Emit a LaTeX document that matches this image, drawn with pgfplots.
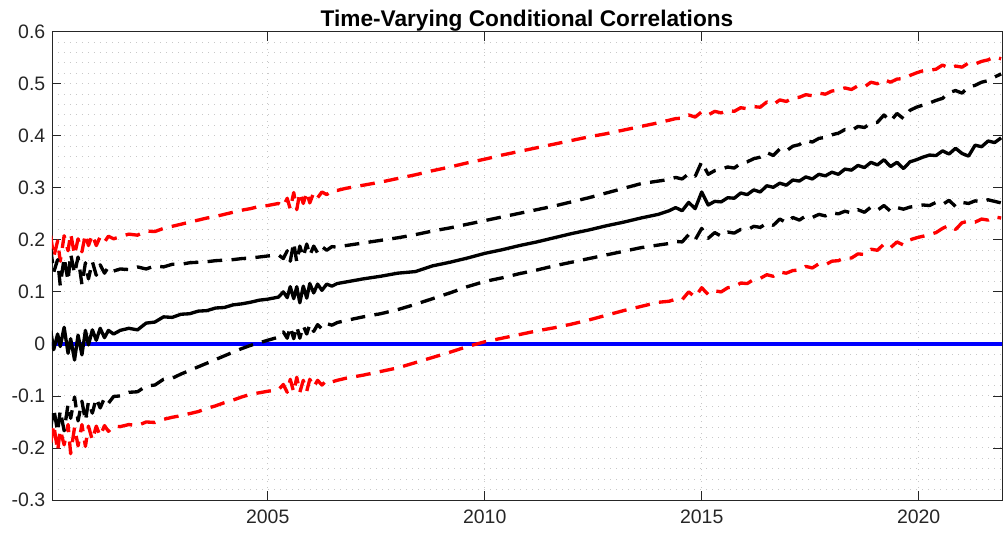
\documentclass[border=0pt]{standalone}
\usepackage{fontspec}
\setmainfont{Liberation Sans}
\usepackage{pgfplots}
\usepackage{pgfplotstable}
\pgfplotsset{compat=1.18}
\definecolor{axgray}{RGB}{38,38,38}
\definecolor{gridgray}{RGB}{200,200,200}
\pgfplotstableread{
t m u1 l1 u2 l2
2000.00 0.025 0.183 -0.161 0.208 -0.190
2000.07 -0.011 0.138 -0.124 0.167 -0.155
2000.16 0.019 0.162 -0.169 0.198 -0.206
2000.22 -0.005 0.112 -0.128 0.159 -0.165
2000.31 0.032 0.166 -0.167 0.208 -0.194
2000.40 -0.018 0.121 -0.116 0.179 -0.155
2000.46 0.010 0.173 -0.143 0.212 -0.211
2000.55 -0.031 0.135 -0.102 0.171 -0.160
2000.63 0.017 0.167 -0.148 0.202 -0.196
2000.72 -0.021 0.114 -0.110 0.177 -0.155
2000.80 0.026 0.156 -0.148 0.211 -0.197
2000.87 -0.002 0.125 -0.111 0.189 -0.158
2000.96 0.027 0.158 -0.133 0.210 -0.185
2001.05 0.007 0.132 -0.104 0.189 -0.158
2001.14 0.030 0.152 -0.123 0.206 -0.177
2001.24 0.012 0.136 -0.104 0.196 -0.157
2001.33 0.026 0.148 -0.114 0.207 -0.168
2001.45 0.019 0.140 -0.101 0.202 -0.158
2001.60 0.026 0.144 -0.100 0.206 -0.159
2001.80 0.030 0.143 -0.093 0.211 -0.155
2002.00 0.027 0.148 -0.092 0.209 -0.157
2002.20 0.040 0.144 -0.081 0.217 -0.150
2002.40 0.042 0.150 -0.079 0.216 -0.151
2002.60 0.052 0.148 -0.068 0.222 -0.145
2002.80 0.051 0.153 -0.066 0.226 -0.141
2003.00 0.057 0.153 -0.058 0.230 -0.138
2003.20 0.058 0.156 -0.051 0.234 -0.134
2003.40 0.063 0.157 -0.044 0.238 -0.130
2003.60 0.064 0.158 -0.037 0.242 -0.124
2003.80 0.069 0.160 -0.030 0.245 -0.119
2004.00 0.070 0.161 -0.023 0.249 -0.113
2004.20 0.075 0.162 -0.016 0.253 -0.108
2004.40 0.077 0.164 -0.009 0.257 -0.102
2004.60 0.080 0.165 -0.003 0.260 -0.097
2004.80 0.084 0.167 0.002 0.264 -0.094
2005.00 0.086 0.169 0.007 0.266 -0.091
2005.25 0.090 0.171 0.013 0.270 -0.088
2005.36 0.100 0.164 0.023 0.264 -0.078
2005.45 0.089 0.179 0.011 0.280 -0.093
2005.52 0.110 0.159 0.033 0.259 -0.068
2005.60 0.087 0.195 0.010 0.291 -0.093
2005.67 0.110 0.157 0.034 0.258 -0.064
2005.74 0.079 0.188 0.011 0.291 -0.093
2005.82 0.111 0.167 0.035 0.270 -0.070
2005.90 0.088 0.192 0.019 0.292 -0.091
2005.97 0.116 0.170 0.038 0.271 -0.068
2006.06 0.098 0.188 0.024 0.291 -0.083
2006.15 0.115 0.175 0.037 0.281 -0.070
2006.25 0.103 0.187 0.029 0.292 -0.079
2006.36 0.115 0.180 0.039 0.287 -0.070
2006.48 0.111 0.187 0.036 0.295 -0.073
2006.60 0.116 0.186 0.041 0.295 -0.070
2006.80 0.119 0.189 0.045 0.299 -0.066
2007.20 0.125 0.194 0.052 0.305 -0.060
2007.60 0.130 0.199 0.058 0.311 -0.053
2008.00 0.136 0.204 0.066 0.318 -0.046
2008.40 0.139 0.210 0.076 0.325 -0.036
2008.80 0.150 0.217 0.087 0.333 -0.026
2009.20 0.157 0.223 0.098 0.340 -0.016
2009.60 0.165 0.230 0.110 0.348 -0.005
2010.00 0.174 0.237 0.120 0.355 0.004
2010.40 0.181 0.244 0.127 0.363 0.011
2010.80 0.189 0.251 0.135 0.370 0.018
2011.20 0.196 0.258 0.142 0.377 0.025
2011.60 0.204 0.265 0.150 0.384 0.031
2012.00 0.212 0.273 0.157 0.391 0.038
2012.40 0.219 0.281 0.164 0.398 0.046
2012.80 0.227 0.290 0.171 0.404 0.055
2013.20 0.234 0.299 0.178 0.411 0.064
2013.60 0.242 0.308 0.185 0.418 0.072
2014.00 0.249 0.313 0.190 0.425 0.080
2014.25 0.256 0.316 0.193 0.430 0.082
2014.40 0.262 0.320 0.197 0.433 0.086
2014.55 0.256 0.317 0.196 0.434 0.085
2014.70 0.272 0.327 0.210 0.440 0.100
2014.85 0.260 0.322 0.200 0.436 0.090
2015.00 0.292 0.350 0.222 0.446 0.108
2015.15 0.267 0.326 0.203 0.440 0.095
2015.30 0.274 0.333 0.214 0.447 0.102
2015.45 0.273 0.336 0.207 0.444 0.100
2015.60 0.281 0.340 0.215 0.449 0.108
2015.75 0.280 0.338 0.213 0.447 0.110
2015.90 0.290 0.347 0.220 0.454 0.117
2016.05 0.287 0.350 0.219 0.452 0.116
2016.20 0.296 0.356 0.226 0.456 0.124
2016.35 0.292 0.359 0.224 0.455 0.126
2016.50 0.304 0.368 0.232 0.465 0.133
2016.65 0.301 0.362 0.228 0.460 0.130
2016.80 0.309 0.375 0.240 0.469 0.138
2016.95 0.305 0.371 0.233 0.466 0.136
2017.10 0.315 0.380 0.243 0.473 0.141
2017.25 0.313 0.383 0.238 0.474 0.142
2017.40 0.321 0.391 0.246 0.479 0.149
2017.55 0.317 0.388 0.243 0.477 0.146
2017.70 0.326 0.395 0.249 0.482 0.154
2017.85 0.323 0.397 0.246 0.480 0.152
2018.00 0.330 0.402 0.252 0.486 0.159
2018.15 0.326 0.405 0.250 0.488 0.160
2018.30 0.336 0.412 0.255 0.492 0.166
2018.45 0.334 0.410 0.252 0.489 0.165
2018.60 0.343 0.418 0.258 0.496 0.173
2018.75 0.339 0.416 0.253 0.494 0.172
2018.90 0.349 0.424 0.263 0.503 0.182
2019.05 0.344 0.426 0.257 0.500 0.180
2019.20 0.354 0.440 0.266 0.508 0.192
2019.35 0.341 0.428 0.255 0.503 0.185
2019.50 0.349 0.443 0.262 0.509 0.196
2019.65 0.337 0.433 0.259 0.510 0.190
2019.80 0.350 0.449 0.263 0.516 0.200
2019.95 0.354 0.455 0.265 0.521 0.204
2020.10 0.359 0.459 0.267 0.525 0.207
2020.25 0.363 0.463 0.266 0.526 0.210
2020.40 0.362 0.468 0.272 0.528 0.214
2020.55 0.371 0.472 0.268 0.536 0.222
2020.70 0.365 0.483 0.276 0.530 0.228
2020.85 0.376 0.487 0.264 0.534 0.220
2021.00 0.366 0.482 0.272 0.532 0.233
2021.15 0.361 0.494 0.270 0.540 0.236
2021.30 0.382 0.497 0.275 0.538 0.234
2021.45 0.379 0.503 0.273 0.543 0.240
2021.60 0.390 0.506 0.277 0.546 0.238
2021.75 0.387 0.513 0.274 0.552 0.244
2021.90 0.396 0.519 0.271 0.548 0.242
}\corrtab

\begin{document}
\begin{tikzpicture}
\useasboundingbox (-39pt,-24.75pt) rectangle (713.25pt,375pt);
\begin{axis}[
  at={(0pt,0pt)}, anchor=south west,
  scale only axis, width=712.5pt, height=351.2pt,
  xmin=2000.03, xmax=2021.92, ymin=-0.3, ymax=0.6,
  xtick={2005,2010,2015,2020}, xticklabels={2005,2010,2015,2020},
  ytick={-0.3,-0.2,-0.1,0,0.1,0.2,0.3,0.4,0.5,0.6},
  yticklabels={-0.3,-0.2,-0.1,0,0.1,0.2,0.3,0.4,0.5,0.6},
  minor y tick num=4,
  tick align=inside,
  major tick length=7pt, minor tick length=0pt,
  xmajorgrids, ymajorgrids, yminorgrids,
  major grid style={line width=0.75pt, gridgray, dash pattern=on 0.75pt off 3.75pt},
  minor grid style={line width=0.75pt, gridgray, dash pattern=on 0.75pt off 3.75pt},
  axis line style={axgray, line width=0.6pt},
  every tick/.style={axgray, line width=0.6pt},
  tick label style={font=\fontsize{14.6pt}{17pt}\selectfont, text=axgray},
  xticklabel style={yshift=-4pt},
  yticklabel style={xshift=-1.5pt},
  title={\textbf{Time-Varying Conditional Correlations}},
  title style={font=\fontsize{17pt}{20pt}\selectfont, yshift=-9pt, text=black},
]
\addplot[blue, line width=2.6pt] coordinates {(2000,0) (2021.95,0)};
\addplot[red, line width=2.5pt, line join=round, dash pattern=on 11pt off 7pt] table[x=t,y=u2]{\corrtab};
\addplot[red, line width=2.5pt, line join=round, dash pattern=on 11pt off 7pt] table[x=t,y=l2]{\corrtab};
\addplot[black, line width=2.5pt, line join=round, dash pattern=on 11pt off 7pt] table[x=t,y=u1]{\corrtab};
\addplot[black, line width=2.5pt, line join=round, dash pattern=on 11pt off 7pt] table[x=t,y=l1]{\corrtab};
\addplot[black, line width=2.5pt, line join=round] table[x=t,y=m]{\corrtab};
\end{axis}
\end{tikzpicture}
\end{document}
